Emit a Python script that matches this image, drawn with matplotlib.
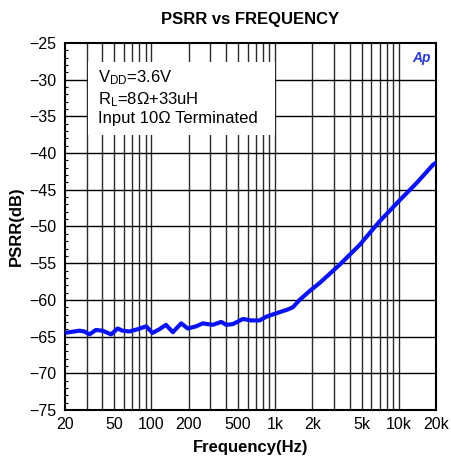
import numpy as np
import matplotlib
matplotlib.use("Agg")
import matplotlib.pyplot as plt
from matplotlib.patches import Rectangle
from matplotlib.ticker import FixedLocator, MultipleLocator, NullFormatter

plt.rcParams['font.family'] = ['Liberation Sans', 'DejaVu Sans']

# PSRR curve (Hz, dB)
freq_hz = [20, 21.7, 23.8, 26.1, 28.7, 31.5, 35.6, 40.3, 47.2, 53.3, 58.5, 66.3,
           77.4, 90.6, 102, 116, 131, 149, 174, 197, 230, 260, 313, 367, 402,
           455, 549, 641, 749, 848, 990, 1122, 1269, 1393, 1578, 1900, 2290,
           3330, 4830, 7000, 10200, 13900, 18900, 20000]
psrr_db = [-64.5, -64.4, -64.3, -64.2, -64.3, -64.7, -64.1, -64.2, -64.7, -63.9,
           -64.2, -64.3, -64.0, -63.6, -64.5, -64.0, -63.4, -64.4, -63.2, -63.9,
           -63.6, -63.2, -63.4, -63.0, -63.4, -63.3, -62.6, -62.8, -62.8, -62.3,
           -61.9, -61.6, -61.3, -61.0, -60.0, -58.8, -57.7, -55.2, -52.5, -49.3,
           -46.4, -44.1, -41.6, -41.3]

x_grid = [30, 40, 50, 60, 70, 80, 90, 100, 200, 300, 400, 500, 600, 700, 800,
          900, 1000, 2000, 3000, 4000, 5000, 6000, 7000, 8000, 9000, 10000]
x_ticks = [20, 50, 100, 200, 500, 1000, 2000, 5000, 10000, 20000]
x_labels = ['20', '50', '100', '200', '500', '1k', '2k', '5k', '10k', '20k']
y_ticks = list(range(-75, -24, 5))

fig = plt.figure(figsize=(4.52, 4.62), dpi=100)
ax = fig.add_axes([0.1438, 0.1126, 0.8208, 0.7943])

for xv in x_grid:
    ax.axvline(xv, color='#2a2a2a', lw=1.0, zorder=1)
for yv in y_ticks[1:-1]:
    ax.axhline(yv, color='black', lw=1.0, zorder=1)

ax.plot(freq_hz, psrr_db, color='#0a14f0', lw=3.0, zorder=3,
        solid_joinstyle='round', solid_capstyle='round')

ax.set_xscale('log')
ax.set_xlim(20, 20000)
ax.set_ylim(-75, -25)
ax.xaxis.set_major_locator(FixedLocator(x_ticks))
ax.xaxis.set_minor_locator(FixedLocator([]))
ax.xaxis.set_minor_formatter(NullFormatter())
ax.set_xticklabels(x_labels)
ax.set_yticks(y_ticks)
ax.yaxis.set_minor_locator(MultipleLocator(1))
ax.tick_params(axis='x', which='both', length=0, labelsize=11.5, pad=5)
ax.tick_params(axis='y', which='major', length=0, labelsize=11.5, pad=6)
ax.tick_params(axis='y', which='minor', direction='in', length=2.5, width=0.8)

for sp in ax.spines.values():
    sp.set_linewidth(1.5)
    sp.set_color('black')

ax.set_title('PSRR vs FREQUENCY', fontsize=12, fontweight='bold', pad=14)
ax.set_xlabel('Frequency(Hz)', fontsize=12, fontweight='bold', labelpad=6)
ax.set_ylabel('PSRR(dB)', fontsize=12, fontweight='bold', labelpad=4)

# white legend box covering the grid
ax.add_patch(Rectangle((0.062, 0.749), 0.504, 0.199, transform=ax.transAxes,
                       facecolor='white', edgecolor='none', zorder=2))
ax.text(0.089, 0.93, '$\\mathregular{V_{DD}}$=3.6V\n$\\mathregular{R_L}$=8\u03a9+33uH\nInput 10\u03a9 Terminated',
        transform=ax.transAxes, fontsize=12, va='top', ha='left', linespacing=1.2,
        zorder=4)

ax.text(0.985, 0.978, 'Ap', transform=ax.transAxes, fontsize=10, style='italic',
        fontweight='bold', color='#2a3ad0', ha='right', va='top', zorder=4)

fig.savefig('out.png', dpi=100)
